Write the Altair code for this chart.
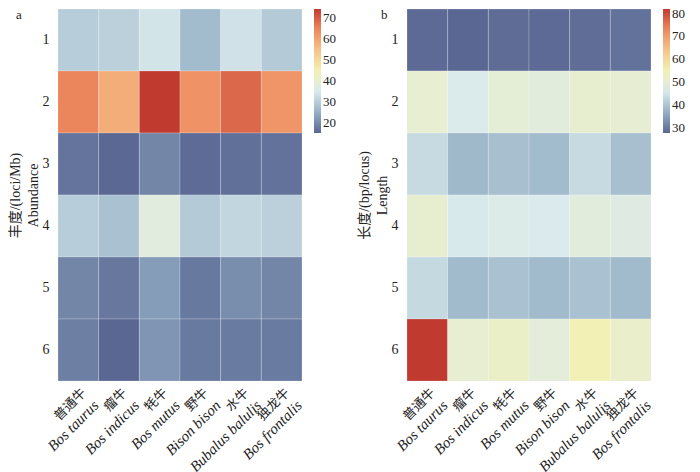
import altair as alt
import pandas as pd

rows = ["1", "2", "3", "4", "5", "6"]
species = ["普通牛", "瘤牛", "牦牛", "野牛", "水牛", "独龙牛"]
latin = ["Bos taurus", "Bos indicus", "Bos mutus", "Bison bison", "Bubalus balulis", "Bos frontalis"]

abund_1 = [30, 30.5, 34, 27, 33.5, 29.5]
abund_2 = [65, 58.5, 74.2, 63, 68.5, 62.5]
abund_3 = [17, 15.5, 19.5, 15.8, 16.5, 16.8]
abund_4 = [30, 28, 37.5, 29.5, 31.5, 30.5]
abund_5 = [19.5, 17.5, 22.5, 17.7, 20.5, 19.5]
abund_6 = [18.5, 15.3, 21.5, 17.8, 18, 18]

len_1 = [28, 27.6, 28.2, 28, 28.3, 29]
len_2 = [50.4, 46, 49.5, 48.5, 50.5, 50]
len_3 = [43.3, 38, 39, 38.5, 43.3, 39]
len_4 = [50.5, 45.5, 46.5, 45.8, 48.5, 47.5]
len_5 = [43, 38.3, 39.3, 38.3, 39.3, 38.2]
len_6 = [82, 50.3, 52, 49, 55, 51.5]

palette = ["#5a6793", "#95b0c5", "#daeaed", "#f3f1b6", "#f4c58a", "#ee8a5f", "#c13a2f"]

W, H = 244, 372
FONT = "Liberation Serif, Noto Sans CJK SC"


def long_df(series):
    recs = []
    for r, vals in zip(rows, series):
        for s, v in zip(species, vals):
            recs.append({"row": r, "species": s, "value": v})
    return pd.DataFrame(recs)


lab_df = pd.DataFrame({"species": species, "latin": latin})


def panel(series, ytitle, letter, ticks):
    df = long_df(series)
    vmin = min(min(v) for v in series)
    vmax = max(max(v) for v in series)
    heat = alt.Chart(df).mark_rect(stroke="white", strokeWidth=0.6, strokeOpacity=0.35).encode(
        x=alt.X("species:N", sort=species, axis=None,
                scale=alt.Scale(paddingInner=0, paddingOuter=0)),
        y=alt.Y("row:O", sort=rows, title=ytitle,
                axis=alt.Axis(ticks=False, domain=False, labelPadding=9, labelFontSize=14,
                              labelFont=FONT, titleFont=FONT, titleFontSize=14,
                              titleFontWeight="normal", titlePadding=2, labelAngle=0,
                              titleLineHeight=18)),
        color=alt.Color("value:Q",
                        scale=alt.Scale(range=palette, domain=[vmin, vmax], interpolate="rgb"),
                        legend=alt.Legend(title=None, values=ticks, gradientLength=124,
                                          gradientThickness=7, labelFontSize=13,
                                          labelFont=FONT, offset=12, gradientStrokeWidth=0,
                                          labelColor="#222")),
    )
    cn = alt.Chart(lab_df).mark_text(angle=315, align="right", baseline="top",
                                     font=FONT, fontSize=13, color="#222", dx=2).encode(
        x=alt.X("species:N", sort=species),
        y=alt.value(H + 7),
        text="species:N",
    )
    la = alt.Chart(lab_df).mark_text(angle=315, align="right", baseline="top",
                                     font=FONT, fontSize=15, fontStyle="italic",
                                     color="#222", dx=2, dy=16).encode(
        x=alt.X("species:N", sort=species),
        y=alt.value(H + 7),
        text="latin:N",
    )
    tag = alt.Chart(pd.DataFrame({"t": [letter]})).mark_text(
        align="left", baseline="top", font=FONT, fontSize=13, color="#222").encode(
        x=alt.value(-42 if letter == "a" else -26), y=alt.value(0), text="t:N")
    return alt.layer(heat, cn, la, tag).properties(width=W, height=H)


pa = panel([abund_1, abund_2, abund_3, abund_4, abund_5, abund_6],
           ["丰度/(loci/Mb)", "Abundance"], "a", [20, 30, 40, 50, 60, 70])
pb = panel([len_1, len_2, len_3, len_4, len_5, len_6],
           ["长度/(bp/locus)", "Length"], "b", [30, 40, 50, 60, 70, 80])

chart = alt.hconcat(pa, pb, spacing=21).resolve_scale(color="independent").properties(
    padding={"left": 0, "top": 0, "right": 0, "bottom": 0}
).configure_view(stroke=None).configure_axis(labelColor="#222", titleColor="#222")

chart.save("out.html", embed_options={"renderer": "svg", "actions": False})
